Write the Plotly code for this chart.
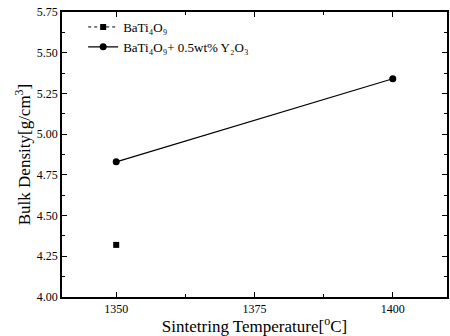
import plotly.graph_objects as go

temp_a = [1350]
dens_a = [4.32]
temp_b = [1350, 1400]
dens_b = [4.83, 5.34]
x_ticks = [1350, 1375, 1400]
y_ticks = [4.00, 4.25, 4.50, 4.75, 5.00, 5.25, 5.50, 5.75]
y_tick_text = ["4.00", "4.25", "4.50", "4.75", "5.00", "5.25", "5.50", "5.75"]
name_a = "BaTi₄O₉"
name_b = "BaTi₄O₉+ 0.5wt% Y₂O₃"

fig = go.Figure()
fig.add_trace(go.Scatter(x=temp_a, y=dens_a, mode="lines+markers", name=name_a,
                         line=dict(color="black", width=1, dash="dot"),
                         marker=dict(symbol="square", size=6, color="black")))
fig.add_trace(go.Scatter(x=temp_b, y=dens_b, mode="lines+markers", name=name_b,
                         line=dict(color="black", width=1.2),
                         marker=dict(symbol="circle", size=7, color="black")))

axis_common = dict(showline=True, linecolor="black", linewidth=1.5, mirror="ticks",
                   ticks="inside", ticklen=5, tickwidth=1, tickcolor="black",
                   showgrid=False, zeroline=False, automargin=False,
                   tickfont=dict(family="Liberation Serif", size=12, color="black"))

fig.update_xaxes(range=[1340.2, 1409.8], tickvals=x_ticks,
                 minor=dict(ticks="inside", ticklen=3, dtick=12.5, tick0=1350, tickcolor="black"),
                 title=dict(text="Sintetring Temperature[<sup>o</sup>C]", standoff=0,
                            font=dict(family="Liberation Serif", size=17, color="black")),
                 **axis_common)
fig.update_yaxes(range=[4.0, 5.75], tickvals=y_ticks, ticktext=y_tick_text,
                 minor=dict(ticks="inside", ticklen=3, dtick=0.125, tick0=4.0, tickcolor="black"),
                 title=dict(text="Bulk Density[g/cm<sup>3</sup>]", standoff=2,
                            font=dict(family="Liberation Serif", size=17, color="black")),
                 **axis_common)

fig.update_layout(width=450, height=336, margin=dict(l=62, r=3, t=12, b=39),
                  paper_bgcolor="white", plot_bgcolor="white",
                  legend=dict(x=0.055, y=1.0, xanchor="left", yanchor="top",
                              bgcolor="rgba(0,0,0,0)", tracegroupgap=0,
                              font=dict(family="Liberation Serif", size=13, color="black"),
                              itemwidth=30))
fig.write_html("out.html", config={"displayModeBar": False},
               post_script="document.body.style.margin='0';document.body.style.overflow='hidden';")
